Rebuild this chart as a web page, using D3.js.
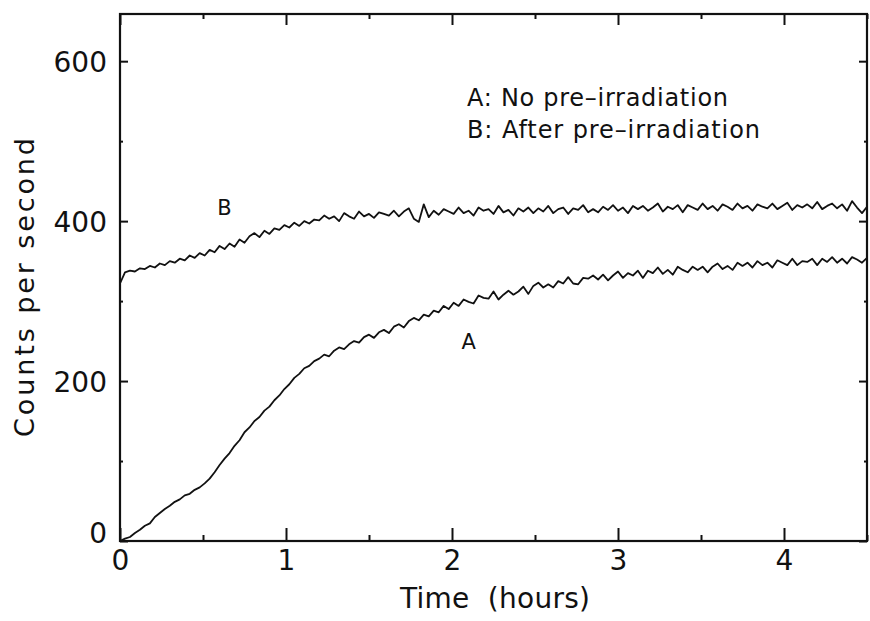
<!DOCTYPE html>
<html>
<head>
<meta charset="utf-8">
<script src="https://cdn.jsdelivr.net/npm/d3@7"></script>
<style>
  html, body { margin: 0; padding: 0; background: #fff; }
  svg { display: block; }
  text { font-family: "DejaVu Sans", "Liberation Sans", sans-serif; fill: #111; white-space: pre; }
</style>
</head>
<body>
<svg id="chart" width="870" height="621"></svg>
<script>
// ---- data ----
const timeStartHours = 0;
const timeStepHours = 0.03;
const seriesNames = ["A", "B"];
const legendLabels = ["A: No pre\u2013irradiation", "B: After pre\u2013irradiation"];
const xTickValues = [0, 1, 2, 3, 4];
const xMinorTickValues = [0.5, 1.5, 2.5, 3.5, 4.5];
const yTickValues = [0, 200, 400, 600];
const yMinorTickValues = [100, 300, 500];
const xAxisTitle = "Time  (hours)";
const yAxisTitle = "Counts per second";

// A: no pre-irradiation
const countsA = [
  0, 3, 5, 10, 14, 19, 22, 30, 35, 40,
  44, 49, 52, 57, 59, 64, 67, 72, 78, 86,
  95, 103, 110, 119, 126, 136, 142, 150, 155, 163,
  168, 176, 182, 190, 196, 204, 209, 216, 219, 225,
  228, 233, 231, 238, 242, 240, 246, 250, 248, 255,
  258, 254, 261, 264, 260, 268, 271, 267, 275, 279,
  276, 283, 281, 288, 286, 294, 290, 298, 294, 302,
  299, 297, 307, 304, 303, 312, 302, 308, 313, 308,
  312, 318, 309, 319, 323, 317, 321, 317, 325, 322,
  330, 322, 321, 329, 328, 332, 327, 333, 326, 332,
  337, 329, 335, 332, 338, 329, 338, 335, 342, 334,
  339, 333, 343, 339, 336, 343, 339, 343, 336, 343,
  347, 340, 344, 339, 348, 344, 348, 342, 350, 345,
  348, 342, 351, 348, 345, 353, 345, 350, 349, 353,
  345, 353, 349, 355, 348, 353, 347, 355, 352, 348,
  354
];
// B: after pre-irradiation
const countsB = [
  322, 336, 338, 337, 341, 340, 344, 342, 347, 345,
  350, 348, 353, 351, 357, 354, 360, 357, 364, 361,
  369, 365, 372, 368, 377, 373, 381, 385, 380, 388,
  384, 391, 389, 395, 392, 398, 394, 400, 397, 402,
  401, 407, 403, 406, 400, 410, 406, 403, 412, 406,
  409, 404, 411, 409, 407, 413, 406, 412, 416, 403,
  399, 421, 405, 413, 408, 415, 412, 409, 417, 410,
  413, 407, 417, 413, 415, 409, 419, 411, 414, 407,
  416, 412, 417, 410, 416, 412, 419, 410, 415, 417,
  409, 416, 414, 420, 411, 415, 411, 418, 414, 420,
  413, 417, 410, 419, 415, 419, 413, 417, 422, 412,
  418, 415, 420, 411, 420, 417, 414, 422, 415, 419,
  413, 421, 418, 414, 422, 416, 419, 413, 421, 418,
  416, 422, 415, 419, 423, 414, 420, 417, 421, 416,
  424, 415, 419, 422, 416, 421, 413, 425, 417, 410,
  418
];
const curveLabelPos = [{ name: "A", t: 2.1, v: 250 }, { name: "B", t: 0.63, v: 417 }];

// ---- layout ----
const svg = d3.select("#chart");
const plot = { left: 120, right: 867, top: 14, bottom: 541 };
const x = d3.scaleLinear().domain([0, 4.5]).range([plot.left, plot.right]);
const y = d3.scaleLinear().domain([0, 659]).range([plot.bottom, plot.top]);

const fontTick = 28;
const ink = "#111";

// frame
svg.append("rect")
  .attr("x", plot.left).attr("y", plot.top)
  .attr("width", plot.right - plot.left).attr("height", plot.bottom - plot.top)
  .attr("fill", "none").attr("stroke", ink).attr("stroke-width", 2.2);

function styleAxis(g) {
  g.select(".domain").remove();
  g.selectAll(".tick line").attr("stroke", ink).attr("stroke-width", 2);
}

// bottom axis (major + minor)
svg.append("g").attr("transform", `translate(0,${plot.bottom})`)
  .call(d3.axisBottom(x).tickValues(xTickValues).tickSize(-13).tickPadding(9).tickFormat(d3.format("d")))
  .call(styleAxis)
  .call(g => g.selectAll("text").attr("font-size", fontTick).attr("fill", ink)
    .style("font-family", "'DejaVu Sans', sans-serif"));
svg.append("g").attr("transform", `translate(0,${plot.bottom})`)
  .call(d3.axisBottom(x).tickValues(xMinorTickValues).tickSize(-6).tickFormat(""))
  .call(styleAxis);

// top axis
svg.append("g").attr("transform", `translate(0,${plot.top})`)
  .call(d3.axisTop(x).tickValues(xTickValues).tickSize(-11).tickFormat(""))
  .call(styleAxis);
svg.append("g").attr("transform", `translate(0,${plot.top})`)
  .call(d3.axisTop(x).tickValues(xMinorTickValues).tickSize(-5).tickFormat(""))
  .call(styleAxis);

// left axis
svg.append("g").attr("transform", `translate(${plot.left},0)`)
  .call(d3.axisLeft(y).tickValues(yTickValues).tickSize(-8).tickPadding(13).tickFormat(d3.format("d")))
  .call(styleAxis)
  .call(g => g.selectAll("text").attr("font-size", fontTick).attr("fill", ink)
    .style("font-family", "'DejaVu Sans', sans-serif")
    .attr("dy", d => d === 0 ? "0.05em" : "0.36em"));
svg.append("g").attr("transform", `translate(${plot.left},0)`)
  .call(d3.axisLeft(y).tickValues(yMinorTickValues).tickSize(-3).tickFormat(""))
  .call(styleAxis);

// right axis
svg.append("g").attr("transform", `translate(${plot.right},0)`)
  .call(d3.axisRight(y).tickValues(yTickValues).tickSize(-8).tickFormat(""))
  .call(styleAxis);
svg.append("g").attr("transform", `translate(${plot.right},0)`)
  .call(d3.axisRight(y).tickValues(yMinorTickValues).tickSize(-3).tickFormat(""))
  .call(styleAxis);

// curves
const line = d3.line()
  .x((d, i) => x(timeStartHours + i * timeStepHours))
  .y(d => y(d));
[countsA, countsB].forEach(series => {
  svg.append("path").datum(series)
    .attr("d", line)
    .attr("fill", "none").attr("stroke", ink)
    .attr("stroke-width", 1.8).attr("stroke-linejoin", "round");
});

// curve labels
curveLabelPos.forEach(p => {
  svg.append("text").attr("x", x(p.t)).attr("y", y(p.v))
    .attr("text-anchor", "middle").attr("dy", "0.36em")
    .attr("font-size", 21).text(p.name);
});

// legend text
const legendWidths = [261, 293];
legendLabels.forEach((t, i) => {
  svg.append("text").attr("x", 467).attr("y", 106 + i * 32)
    .attr("font-size", 24)
    .attr("textLength", legendWidths[i]).attr("lengthAdjust", "spacing")
    .text(t);
});

// axis titles
svg.append("text").attr("x", 400).attr("y", 608)
  .attr("font-size", 28)
  .attr("textLength", 190).attr("lengthAdjust", "spacing")
  .text(xAxisTitle);
svg.append("text").attr("transform", `translate(34,437) rotate(-90)`)
  .attr("font-size", 27)
  .attr("textLength", 299).attr("lengthAdjust", "spacing")
  .text(yAxisTitle);
</script>
</body>
</html>
